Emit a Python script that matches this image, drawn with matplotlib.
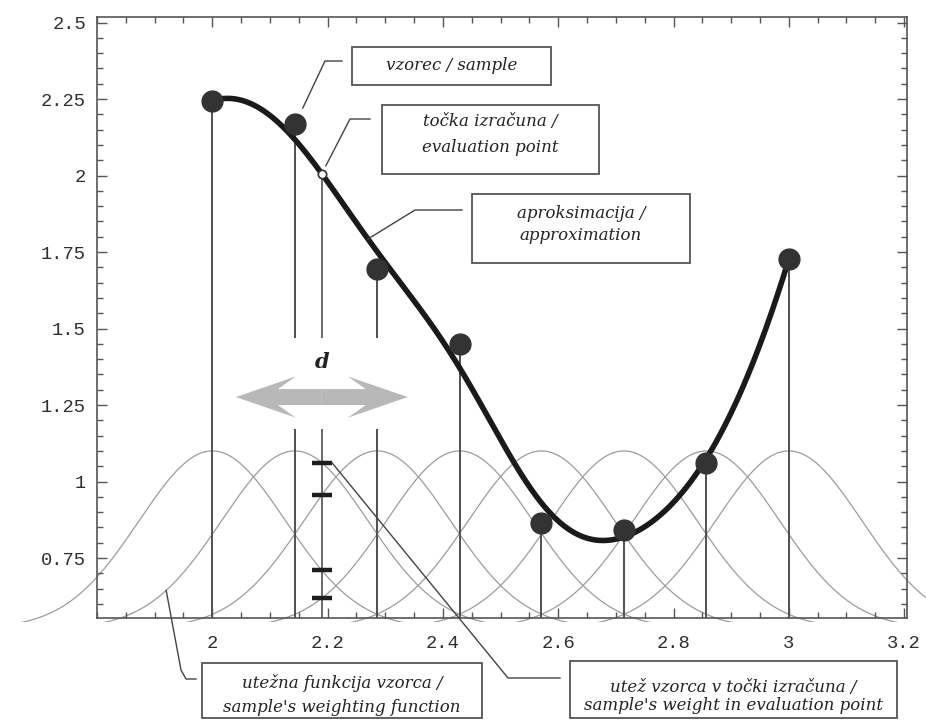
import numpy as np
import matplotlib.pyplot as plt
import matplotlib.patches as mpatches
from matplotlib.lines import Line2D
from matplotlib.ticker import MultipleLocator
from matplotlib.transforms import Bbox, TransformedBbox

# samples of the function
sample_x = np.array([2.0, 2.143, 2.286, 2.429, 2.571, 2.714, 2.857, 3.0])
sample_y = np.array([2.243, 2.168, 1.694, 1.45, 0.864, 0.842, 1.06, 1.727])

# evaluation point and radius of influence d
eval_x = 2.19
radius_d = 0.149

# gaussian weighting function of each sample (drawn on a raised baseline)
kernel_sigma = 0.127
kernel_base = 0.52
kernel_peak = 1.10
kernel_reach = 0.35

x_ticks = [2.0, 2.2, 2.4, 2.6, 2.8, 3.0, 3.2]
x_labels = ['2', '2.2', '2.4', '2.6', '2.8', '3', '3.2']
y_ticks = [0.75, 1.0, 1.25, 1.5, 1.75, 2.0, 2.25, 2.5]
y_labels = ['0.75', '1', '1.25', '1.5', '1.75', '2', '2.25', '2.5']


def weight(x, xi):
    return np.exp(-(x - xi) ** 2 / (2 * kernel_sigma ** 2))


def kernel_curve(x, xi):
    return kernel_base + (kernel_peak - kernel_base) * weight(x, xi)


def mls(xs):
    # moving least squares, quadratic basis, gaussian weights
    out = []
    for x in np.atleast_1d(xs):
        w = weight(x, sample_x)
        u = sample_x - x
        A = np.vstack([np.ones_like(u), u, u ** 2]).T
        coef = np.linalg.solve(A.T @ (w[:, None] * A), A.T @ (w * sample_y))
        out.append(coef[0])
    return np.array(out)


W, H = 926, 720
fig = plt.figure(figsize=(W / 100, H / 100), dpi=100)
ax = fig.add_axes([97 / W, 1 - 618 / H, (907 - 97) / W, (618 - 17) / H])
ax.set_xlim(1.8, 3.205)
ax.set_ylim(0.554, 2.518)
ybot = ax.get_ylim()[0]

# weighting functions, allowed to run past the left and right frame
kernel_clip = TransformedBbox(Bbox([[1.6, 0.542], [3.5, 2.6]]), ax.transData)
for xi in sample_x:
    xs = np.linspace(xi - kernel_reach, xi + kernel_reach, 300)
    ln, = ax.plot(xs, kernel_curve(xs, xi), color='#9c9c9c', lw=0.9, zorder=1)
    ln.set_clip_box(kernel_clip)

eval_y = mls(eval_x)[0]

ax.vlines(sample_x, ybot, sample_y, color='#505050', lw=1.4, zorder=2)
ax.vlines(eval_x, ybot, eval_y, color='#505050', lw=1.2, zorder=2)

# blank area behind the d arrow
ax.add_patch(mpatches.Rectangle((eval_x - radius_d - 0.005, 1.17), 2 * radius_d + 0.01, 0.30,
                                fc='white', ec='none', zorder=3))
for sign in (-1, 1):
    ax.add_patch(mpatches.FancyArrow(eval_x, 1.276, sign * radius_d, 0, width=0.052,
                                     head_width=0.135, head_length=0.104, overhang=0.3,
                                     length_includes_head=True, fc='#b8b8b8', ec='none', zorder=4))
ax.text(eval_x, 1.39, 'd', ha='center', va='center', family='DejaVu Serif',
        style='italic', weight='bold', fontsize=15, color='#222222', zorder=5)

# weights of the samples at the evaluation point
wmarks = kernel_curve(eval_x, sample_x)
ax.hlines(wmarks, eval_x - 0.0175, eval_x + 0.0175, color='#1e1e1e', lw=3.2, zorder=5)

# approximation
xa = np.linspace(sample_x[0], sample_x[-1], 400)
ax.plot(xa, mls(xa), color='#1a1a1a', lw=4.0, solid_capstyle='round', zorder=6)
ax.plot(sample_x, sample_y, 'o', ms=15, color='#333333', zorder=7)
ax.plot(eval_x, eval_y, 'o', ms=6, mfc='white', mec='#333333', mew=1.2, zorder=8)

ax.set_xticks(x_ticks, x_labels)
ax.set_yticks(y_ticks, y_labels)
ax.xaxis.set_minor_locator(MultipleLocator(0.05))
ax.yaxis.set_minor_locator(MultipleLocator(0.05))
ax.tick_params(which='both', direction='in', top=True, right=True, color='#555555', width=1)
ax.tick_params(which='major', length=7, labelsize=13.5, labelcolor='#2e2e2e')
ax.tick_params(which='minor', length=4)
ax.tick_params(axis='x', pad=12)
ax.tick_params(axis='y', pad=8)
for lab in ax.get_xticklabels() + ax.get_yticklabels():
    lab.set_family('Liberation Mono')
for sp in ax.spines.values():
    sp.set_color('#555555')
    sp.set_linewidth(1.2)


def fpx(x, y):
    return x / W, 1 - y / H


def data_px(x, y):
    dx, dy = ax.transData.transform((x, y))
    return dx, H - dy


def leader(points):
    xs = [p[0] / W for p in points]
    ys = [1 - p[1] / H for p in points]
    fig.add_artist(Line2D(xs, ys, transform=fig.transFigure, color='#444444', lw=1.0, zorder=2))


def label_box(x0, y0, x1, y1, lines):
    fig.add_artist(mpatches.Rectangle(fpx(x0, y1), (x1 - x0) / W, (y1 - y0) / H,
                                      transform=fig.transFigure, fc='white', ec='#555555',
                                      lw=1.3, zorder=3))
    for text, ty in lines:
        fig.text((x0 + x1) / 2 / W, 1 - ty / H, text, ha='center', va='center',
                 family='DejaVu Serif', style='italic', fontsize=12, color='#222222', zorder=4)


# callouts
sx, sy = data_px(sample_x[1], sample_y[1])
leader([(sx + 8, sy - 16), (325, 61), (342, 61)])
label_box(352, 47, 551, 85, [('vzorec / sample', 65)])

ex, ey = data_px(eval_x, eval_y)
leader([(ex + 4, ey - 8), (350, 119), (370, 119)])
label_box(382, 105, 599, 174, [('točka izračuna /', 122), ('evaluation point', 148)])

ax_, ay_ = data_px(2.27, mls(2.27)[0])
leader([(ax_, ay_), (415, 210), (462, 210)])
label_box(472, 194, 690, 263, [('aproksimacija /', 213), ('approximation', 236)])

kx, ky = data_px(1.92, kernel_curve(1.92, sample_x[1]))
leader([(kx, ky), (181, 670), (186, 679), (196, 679)])
label_box(202, 663, 482, 718, [('utežna funkcija vzorca /', 683), ("sample's weighting function", 707)])

mx, my = data_px(eval_x + 0.0175, wmarks[1])
leader([(mx, my), (508, 678), (560, 678)])
label_box(570, 661, 897, 718, [('utež vzorca v točki izračuna /', 688), ("sample's weight in evaluation point", 705)])

fig.savefig('out.png', dpi=100)
